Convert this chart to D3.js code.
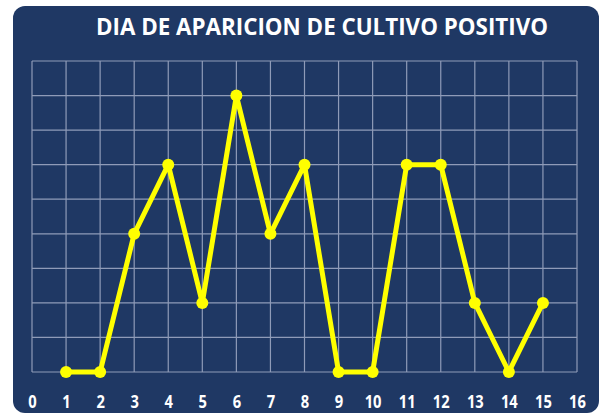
<!DOCTYPE html>
<html>
<head>
<meta charset="utf-8">
<script src="https://cdn.jsdelivr.net/npm/d3@7"></script>
<style>
  body { margin: 0; background: #fff; }
  svg { display: block; }
</style>
</head>
<body>
<div id="chart"></div>
<script>
var title = 'DIA DE APARICION DE CULTIVO POSITIVO';
var days = [1, 2, 3, 4, 5, 6, 7, 8, 9, 10, 11, 12, 13, 14, 15];
var counts = [0, 0, 2, 3, 1, 4, 2, 3, 0, 0, 3, 3, 1, 0, 1];
var xTicks = d3.range(0, 17);
var yGrid = d3.range(0, 4.51, 0.5);

var width = 606, height = 418;

var svg = d3.select('#chart').append('svg')
    .attr('width', width)
    .attr('height', height);

svg.append('rect')
    .attr('x', 13).attr('y', 6)
    .attr('width', 586).attr('height', 407)
    .attr('rx', 12).attr('ry', 12)
    .attr('fill', '#1f3864');

svg.append('text')
    .attr('x', 322).attr('y', 35)
    .attr('text-anchor', 'middle')
    .attr('fill', '#fff')
    .attr('font-family', 'Open Sans, sans-serif')
    .attr('font-weight', 'bold')
    .attr('font-size', 24)
    .attr('textLength', 452)
    .attr('lengthAdjust', 'spacingAndGlyphs')
    .text(title);

var x = d3.scaleLinear().domain([0, 16]).range([32, 577]);
var y = d3.scaleLinear().domain([0, 4.5]).range([372, 61]);

var grid = svg.append('g')
    .attr('stroke', '#8f9bb8')
    .attr('stroke-width', 1.2);

grid.selectAll('.vline')
    .data(xTicks)
    .enter().append('line')
    .attr('class', 'vline')
    .attr('x1', function(d) { return x(d); })
    .attr('x2', function(d) { return x(d); })
    .attr('y1', y(4.5))
    .attr('y2', y(0));

grid.selectAll('.hline')
    .data(yGrid)
    .enter().append('line')
    .attr('class', 'hline')
    .attr('x1', x(0))
    .attr('x2', x(16))
    .attr('y1', function(d) { return y(d); })
    .attr('y2', function(d) { return y(d); });

var xAxis = svg.append('g')
    .attr('transform', 'translate(0,' + y(0) + ')')
    .call(d3.axisBottom(x).tickValues(xTicks).tickSize(0).tickPadding(23));
xAxis.select('.domain').remove();
xAxis.selectAll('text')
    .attr('fill', '#fff')
    .attr('font-family', 'Open Sans, sans-serif')
    .attr('font-weight', 'bold')
    .attr('font-size', 18)
    .attr('transform', 'scale(0.82,1)');

var points = days.map(function(d, i) { return { day: d, value: counts[i] }; });

var line = d3.line()
    .x(function(d) { return x(d.day); })
    .y(function(d) { return y(d.value); });

svg.append('path')
    .datum(points)
    .attr('d', line)
    .attr('fill', 'none')
    .attr('stroke', '#ffff00')
    .attr('stroke-width', 5)
    .attr('stroke-linejoin', 'round');

svg.selectAll('.dot')
    .data(points)
    .enter().append('circle')
    .attr('class', 'dot')
    .attr('cx', function(d) { return x(d.day); })
    .attr('cy', function(d) { return y(d.value); })
    .attr('r', 6)
    .attr('fill', '#ffff00');
</script>
</body>
</html>
